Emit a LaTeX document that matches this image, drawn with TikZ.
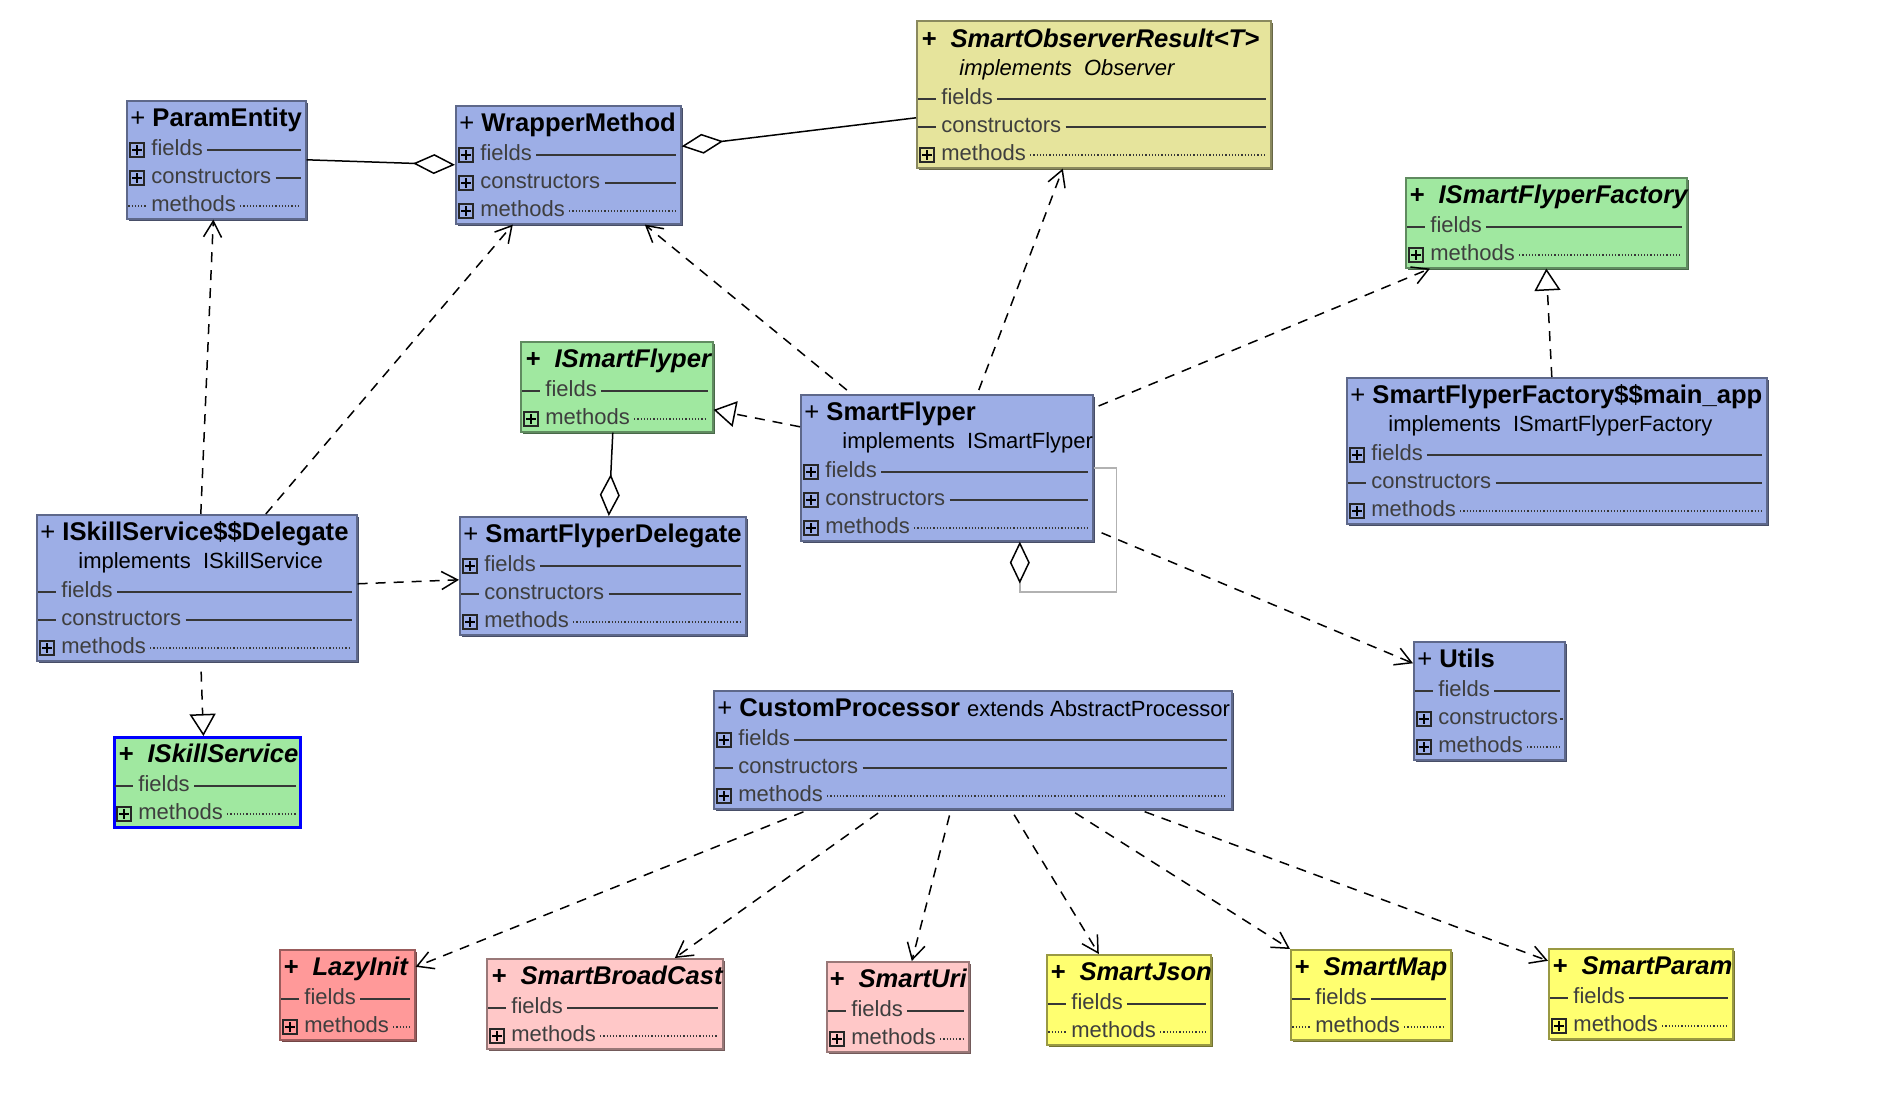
\documentclass[tikz,border=0pt]{standalone}
\usepackage{fontspec}
\setmainfont{Liberation Sans}
\usetikzlibrary{arrows.meta,calc,shadows}

\definecolor{umlblue}{RGB}{157,174,230}
\definecolor{umlgreen}{RGB}{160,232,160}
\definecolor{umlkhaki}{RGB}{230,228,156}
\definecolor{umlyellow}{RGB}{255,255,112}
\definecolor{umlpink}{RGB}{255,200,200}
\definecolor{umlred}{RGB}{255,153,153}
\definecolor{rowgrey}{RGB}{62,62,62}
\definecolor{rulegrey}{RGB}{55,55,55}

% one compartment row: box, offset from top, icon, label, rule style
\newcommand{\classrow}[5]{%
  \pic at ([shift={(11,#2)}]#1.north west) {#3icon};
  \node[rowtext] (#1-#2) at ([shift={(25,#2)}]#1.north west) {#4};
  \draw[#5] ([xshift=2pt]#1-#2.east) -- ($(#1.east |- #1-#2.east)+(-6,0)$);}

\begin{document}
\begin{tikzpicture}[x=0.5pt, y=-0.5pt,
  classbox/.style={draw=#1!60!black, fill=#1, line width=0.8pt, anchor=north west,
    inner sep=0pt, general shadow={fill=#1!45!black, shadow xshift=0.9pt, shadow yshift=-0.9pt}},
  titletext/.style={anchor=west, inner sep=0pt, text height=1ex, text depth=0pt,
    font=\fontsize{12.8}{15}\selectfont\bfseries},
  subtext/.style={anchor=west, inner sep=0pt, text height=1ex, text depth=0pt,
    font=\fontsize{11}{13}\selectfont},
  rowtext/.style={anchor=west, inner sep=0pt, text height=1ex, text depth=0pt,
    text=rowgrey, font=\fontsize{11}{13}\selectfont},
  rowrule/.style={line width=1pt, draw=rulegrey},
  dotrule/.style={line width=0.6pt, draw=rulegrey, dash pattern=on 0.6pt off 1pt},
  plusicon/.pic={\draw[line width=0.7pt, draw=black!85] (-3.5pt,-3.5pt) rectangle (3.5pt,3.5pt);
    \draw[line width=0.7pt] (-2.3pt,0) -- (2.3pt,0) (0,-2.3pt) -- (0,2.3pt);},
  dashicon/.pic={\draw[rowrule] (-4.3pt,0) -- (4.3pt,0);},
  dotsicon/.pic={\draw[dotrule] (-4.3pt,0) -- (4.3pt,0);},
  depline/.style={line width=0.75pt, dash pattern=on 5pt off 4pt,
    -{Straight Barb[length=8pt,width=9pt]}},
  realline/.style={line width=0.75pt, dash pattern=on 5pt off 4pt,
    -{Triangle[open,length=11pt,width=13pt]}},
  aggline/.style={line width=0.75pt, -{Diamond[open,length=21pt,width=10pt]}},
  loopline/.style={line width=0.75pt, draw=black!30, -{Diamond[open,length=21pt,width=10pt,color=black]}}]

\fill[white] (0,0) rectangle (1888,1102);
\useasboundingbox (0,0) rectangle (1888,1102);

% ParamEntity
\node[classbox=umlblue, minimum width=89.5pt, minimum height=59pt] (pe) at (126,100) {};
\node[titletext] (pe-t) at ([shift={(4,21)}]pe.north west) {{\mdseries+} ParamEntity};
\classrow{pe}{50}{plus}{fields}{rowrule}
\classrow{pe}{78}{plus}{constructors}{rowrule}
\classrow{pe}{106}{dots}{methods}{dotrule}

% WrapperMethod
\node[classbox=umlblue, minimum width=112.5pt, minimum height=59pt] (wm) at (455,105) {};
\node[titletext] (wm-t) at ([shift={(4,21)}]wm.north west) {{\mdseries+} WrapperMethod};
\classrow{wm}{50}{plus}{fields}{rowrule}
\classrow{wm}{78}{plus}{constructors}{rowrule}
\classrow{wm}{106}{plus}{methods}{dotrule}

% SmartObserverResult
\node[classbox=umlkhaki, minimum width=177pt, minimum height=73.5pt] (sor) at (916,20) {};
\node[titletext] (sor-t) at ([shift={(5,22)}]sor.north west) {\itshape +\ \ SmartObserverResult<T>};
\node[subtext] (sor-s) at ([shift={(43,50)}]sor.north west) {\itshape implements\ \ Observer};
\classrow{sor}{79}{dash}{fields}{rowrule}
\classrow{sor}{107}{dash}{constructors}{rowrule}
\classrow{sor}{135}{plus}{methods}{dotrule}

% ISmartFlyperFactory
\node[classbox=umlgreen, minimum width=140.5pt, minimum height=45pt] (isff) at (1405,177) {};
\node[titletext] (isff-t) at ([shift={(4,21)}]isff.north west) {\itshape +\ \ ISmartFlyperFactory};
\classrow{isff}{50}{dash}{fields}{rowrule}
\classrow{isff}{78}{plus}{methods}{dotrule}

% SmartFlyperFactory$$main_app
\node[classbox=umlblue, minimum width=210pt, minimum height=73pt] (sffm) at (1346,377) {};
\node[titletext] (sffm-t) at ([shift={(4,21)}]sffm.north west) {{\mdseries+} SmartFlyperFactory\$\$main\_app};
\node[subtext] (sffm-s) at ([shift={(42,49)}]sffm.north west) {implements\ \ ISmartFlyperFactory};
\classrow{sffm}{78}{plus}{fields}{rowrule}
\classrow{sffm}{106}{dash}{constructors}{rowrule}
\classrow{sffm}{134}{plus}{methods}{dotrule}

% ISmartFlyper
\node[classbox=umlgreen, minimum width=96pt, minimum height=45pt] (isf) at (520,341) {};
\node[titletext] (isf-t) at ([shift={(5,21)}]isf.north west) {\itshape +\ \ ISmartFlyper};
\classrow{isf}{50}{dash}{fields}{rowrule}
\classrow{isf}{78}{plus}{methods}{dotrule}

% SmartFlyper
\node[classbox=umlblue, minimum width=146pt, minimum height=73pt] (sf) at (800,394) {};
\node[titletext] (sf-t) at ([shift={(4,21)}]sf.north west) {{\mdseries+} SmartFlyper};
\node[subtext] (sf-s) at ([shift={(42,49)}]sf.north west) {implements\ \ ISmartFlyper};
\classrow{sf}{78}{plus}{fields}{rowrule}
\classrow{sf}{106}{plus}{constructors}{rowrule}
\classrow{sf}{134}{plus}{methods}{dotrule}

% ISkillService$$Delegate
\node[classbox=umlblue, minimum width=160pt, minimum height=73pt] (isd) at (36,514) {};
\node[titletext] (isd-t) at ([shift={(4,21)}]isd.north west) {{\mdseries+} ISkillService\$\$Delegate};
\node[subtext] (isd-s) at ([shift={(42,49)}]isd.north west) {implements\ \ ISkillService};
\classrow{isd}{78}{dash}{fields}{rowrule}
\classrow{isd}{106}{dash}{constructors}{rowrule}
\classrow{isd}{134}{plus}{methods}{dotrule}

% SmartFlyperDelegate
\node[classbox=umlblue, minimum width=143pt, minimum height=59pt] (sfd) at (459,516) {};
\node[titletext] (sfd-t) at ([shift={(4,21)}]sfd.north west) {{\mdseries+} SmartFlyperDelegate};
\classrow{sfd}{50}{plus}{fields}{rowrule}
\classrow{sfd}{78}{dash}{constructors}{rowrule}
\classrow{sfd}{106}{plus}{methods}{dotrule}

% ISkillService
\node[classbox=umlgreen, draw=blue, line width=1.4pt, minimum width=93pt, minimum height=45pt] (iss) at (113,736) {};
\node[titletext] (iss-t) at ([shift={(5,21)}]iss.north west) {\itshape +\ \ ISkillService};
\classrow{iss}{50}{dash}{fields}{rowrule}
\classrow{iss}{78}{plus}{methods}{dotrule}

% Utils
\node[classbox=umlblue, minimum width=75.5pt, minimum height=59pt] (ut) at (1413,641) {};
\node[titletext] (ut-t) at ([shift={(4,21)}]ut.north west) {{\mdseries+} Utils};
\classrow{ut}{50}{dash}{fields}{rowrule}
\classrow{ut}{78}{plus}{constructors}{rowrule}
\classrow{ut}{106}{plus}{methods}{dotrule}

% CustomProcessor
\node[classbox=umlblue, minimum width=259pt, minimum height=59pt] (cp) at (713,690) {};
\node[titletext] (cp-t) at ([shift={(4,21)}]cp.north west)
  {{\mdseries+} CustomProcessor {\mdseries\fontsize{11}{13}\selectfont extends AbstractProcessor}};
\classrow{cp}{50}{plus}{fields}{rowrule}
\classrow{cp}{78}{dash}{constructors}{rowrule}
\classrow{cp}{106}{plus}{methods}{dotrule}

% bottom row
\node[classbox=umlred, minimum width=67.5pt, minimum height=45pt] (lz) at (279,949) {};
\node[titletext] (lz-t) at ([shift={(4,21)}]lz.north west) {\itshape +\ \ LazyInit};
\classrow{lz}{50}{dash}{fields}{rowrule}
\classrow{lz}{78}{plus}{methods}{dotrule}

\node[classbox=umlpink, minimum width=118pt, minimum height=45pt] (sbc) at (486,958) {};
\node[titletext] (sbc-t) at ([shift={(5,21)}]sbc.north west) {\itshape +\ \ SmartBroadCast};
\classrow{sbc}{50}{dash}{fields}{rowrule}
\classrow{sbc}{78}{plus}{methods}{dotrule}

\node[classbox=umlpink, minimum width=71pt, minimum height=45pt] (su) at (826,961) {};
\node[titletext] (su-t) at ([shift={(3,21)}]su.north west) {\itshape +\ \ SmartUri};
\classrow{su}{50}{dash}{fields}{rowrule}
\classrow{su}{78}{plus}{methods}{dotrule}

\node[classbox=umlyellow, minimum width=82pt, minimum height=45pt] (sj) at (1046,954) {};
\node[titletext] (sj-t) at ([shift={(4,21)}]sj.north west) {\itshape +\ \ SmartJson};
\classrow{sj}{50}{dash}{fields}{rowrule}
\classrow{sj}{78}{dots}{methods}{dotrule}

\node[classbox=umlyellow, minimum width=80pt, minimum height=45pt] (sm) at (1290,949) {};
\node[titletext] (sm-t) at ([shift={(4,21)}]sm.north west) {\itshape +\ \ SmartMap};
\classrow{sm}{50}{dash}{fields}{rowrule}
\classrow{sm}{78}{dots}{methods}{dotrule}

\node[classbox=umlyellow, minimum width=92pt, minimum height=45pt] (sp) at (1548,948) {};
\node[titletext] (sp-t) at ([shift={(4,21)}]sp.north west) {\itshape +\ \ SmartParam};
\classrow{sp}{50}{dash}{fields}{rowrule}
\classrow{sp}{78}{plus}{methods}{dotrule}

% aggregations
\draw[aggline] (pe.east) -- (wm.west);
\draw[aggline] ([yshift=-11.75pt]sor.west) -- ([yshift=9.25pt]wm.east);
\draw[aggline] ([xshift=-2pt]isf.south) -- ([xshift=3pt]sfd.north);
\draw[loopline] (sf.east) -- ++(23,0) -- ++(0,124) -| ([xshift=36.5pt]sf.south);

% realizations
\draw[realline] ([xshift=-2.5pt]sffm.north) -- (isff.south);
\draw[realline] ([yshift=20.5pt]sf.west) -- ([yshift=-11.5pt]isf.east);
\draw[realline, shorten <=5pt] ([xshift=2pt]isd.south) -- ([xshift=-2pt]iss.north);

% dependencies
\draw[depline] ([xshift=2pt]isd.north) -- ([xshift=-1.5pt]pe.south);
\draw[depline] ([xshift=34.5pt]isd.north) -- ([xshift=-27.75pt]wm.south);
\draw[depline] ([xshift=-50pt,yshift=2pt]sf.north) -- ([xshift=38.25pt]wm.south);
\draw[depline] ([xshift=16pt,yshift=2pt]sf.north) -- ([xshift=-15.5pt]sor.south);
\draw[depline] ([xshift=2.5pt,yshift=-6pt]sf.north east) -- ([xshift=12.5pt]isff.south west);
\draw[depline] ([yshift=2pt]isd.east) -- ([yshift=-2pt]sfd.west);
\draw[depline] ([xshift=4pt,yshift=-32.5pt]sf.east) -- ([yshift=18.75pt]ut.west);
\draw[depline, shorten <=3pt] ([xshift=48pt]cp.south west) -- ([yshift=14pt]lz.east);
\draw[depline, shorten <=3pt] ([xshift=85pt]cp.south west) -- ([xshift=35pt]sbc.north);
\draw[depline, shorten <=3pt] ([xshift=119pt]cp.south west) -- ([xshift=7pt]su.north);
\draw[depline, shorten <=3pt] ([xshift=149pt]cp.south west) -- ([xshift=-15pt]sj.north);
\draw[depline, shorten <=3pt] ([xshift=178.5pt]cp.south west) -- (sm.north west);
\draw[depline, shorten <=3pt] ([xshift=213pt]cp.south west) -- ([yshift=16.5pt]sp.west);

\end{tikzpicture}
\end{document}
